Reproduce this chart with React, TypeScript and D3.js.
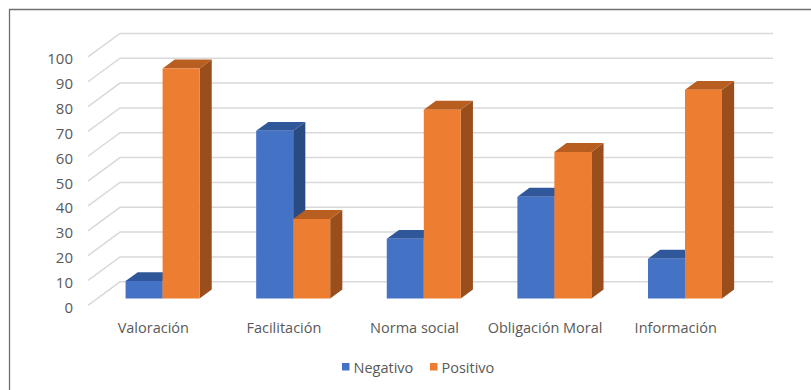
import React from "react";
import * as d3 from "d3";

const categories = ["Valoración", "Facilitación", "Norma social", "Obligación Moral", "Información"];
const seriesNames = ["Negativo", "Positivo"];
const negativo = [7, 67.5, 24, 41, 16];
const positivo = [92.6, 32, 76, 59, 84];
const yTicks = [0, 10, 20, 30, 40, 50, 60, 70, 80, 90, 100];

const faceColors = [
  { front: "#4472C4", top: "#30579A", side: "#2A4B82" },
  { front: "#ED7D31", top: "#B95E21", side: "#9A4E1C" },
];

const W = 811;
const H = 390;
const DX = 32;
const DY = -23.5;
const Z0 = 0.29;
const Z1 = 0.67;
const FONT = "'Open Sans', 'Liberation Sans', sans-serif";

export default function App() {
  const x = d3.scaleBand<string>().domain(categories).range([88, 741]).padding(0);
  const xs = d3.scaleBand<string>().domain(seriesNames).range([28.3, 102.3]).padding(0);
  const y = d3.scaleLinear().domain([0, 100]).range([305.3, 305.3 - 248.4]);

  const proj = (px: number, v: number, z: number): [number, number] => [px + z * DX, y(v) + z * DY];
  const pts = (arr: [number, number][]) => arr.map((p) => p.join(",")).join(" ");

  const values = [negativo, positivo];

  const bars: React.ReactNode[] = [];
  categories.forEach((c, ci) => {
    seriesNames.forEach((s, si) => {
      const v = values[si][ci];
      const x0 = (x(c) as number) + (xs(s) as number);
      const x1 = x0 + xs.bandwidth();
      const col = faceColors[si];
      const front = [proj(x0, 0, Z0), proj(x1, 0, Z0), proj(x1, v, Z0), proj(x0, v, Z0)] as [number, number][];
      const top = [proj(x0, v, Z0), proj(x1, v, Z0), proj(x1, v, Z1), proj(x0, v, Z1)] as [number, number][];
      const side = [proj(x1, 0, Z0), proj(x1, 0, Z1), proj(x1, v, Z1), proj(x1, v, Z0)] as [number, number][];
      bars.push(
        <g key={`${ci}-${si}`}>
          <polygon points={pts(side)} fill={col.side} />
          <polygon points={pts(top)} fill={col.top} />
          <polygon points={pts(front)} fill={col.front} />
        </g>
      );
    });
  });

  const xLeft = 88;
  const xRight = 741;

  return (
    <svg width={W} height={H} style={{ position: "absolute", left: 0, top: 0, display: "block" }}>
      <rect x={0} y={0} width={W} height={H} fill="#ffffff" />
      <path d={`M9.5,${H + 5} V9.5 H${W + 5}`} fill="none" stroke="#6f6f6f" strokeWidth={1.3} />
      <g stroke="#d9d9d9" strokeWidth={1.5} fill="none">
        {yTicks.map((t) => {
          const [fx, fy] = proj(xLeft, t, 0);
          const [bx, by] = proj(xLeft, t, 1);
          const [ex] = proj(xRight, t, 1);
          return <path key={t} d={`M${fx},${fy} L${bx},${by} H${ex}`} />;
        })}
      </g>
      <g fontFamily={FONT} fontSize={15} fill="#595959" textAnchor="end">
        {yTicks.map((t) => (
          <text key={t} x={73} y={y(t) + 1.5} dominantBaseline="central">
            {t}
          </text>
        ))}
      </g>
      {bars}
      <g fontFamily={FONT} fontSize={14.5} fill="#595959" textAnchor="middle">
        {categories.map((c) => (
          <text key={c} x={(x(c) as number) + x.bandwidth() / 2} y={327} dominantBaseline="central">
            {c}
          </text>
        ))}
      </g>
      <g fontFamily={FONT} fontSize={14.5} fill="#595959">
        {seriesNames.map((s, i) => {
          const lx = i === 0 ? 342 : 430;
          return (
            <g key={s}>
              <rect x={lx} y={363} width={7.5} height={7.5} fill={faceColors[i].front} />
              <text x={lx + 11.5} y={367} dominantBaseline="central">
                {s}
              </text>
            </g>
          );
        })}
      </g>
    </svg>
  );
}
